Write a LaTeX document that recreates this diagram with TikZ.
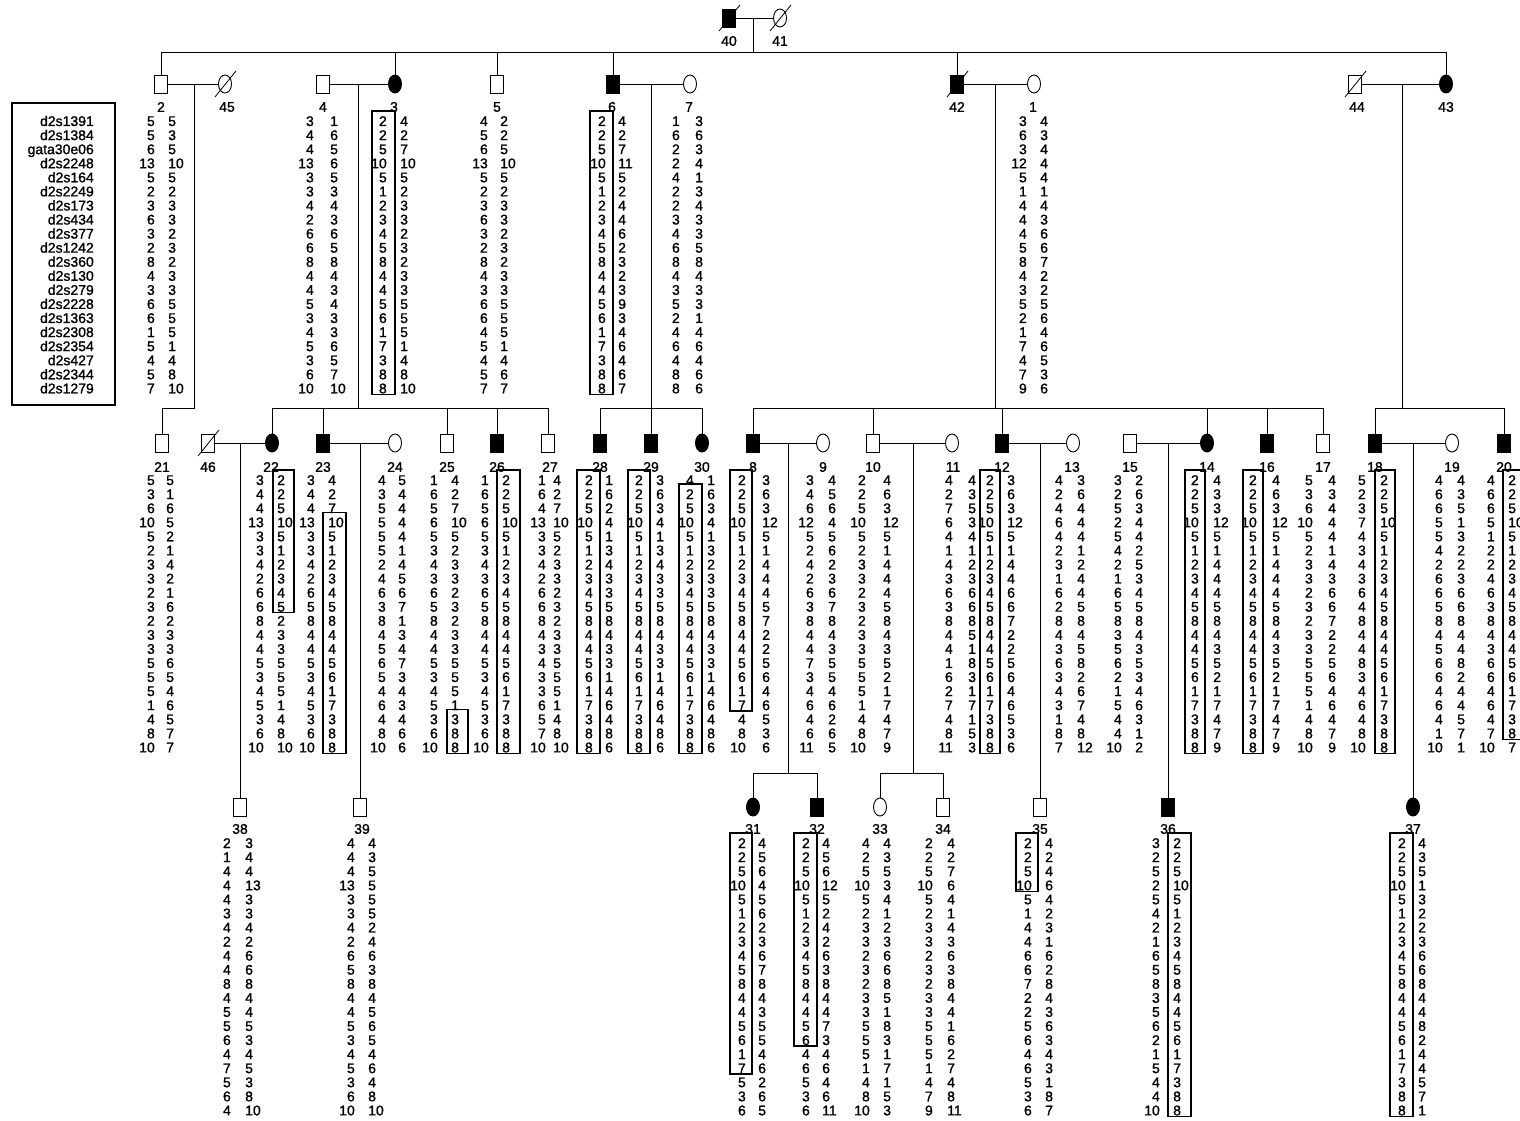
\documentclass[tikz,border=0pt]{standalone}
\usepackage{fontspec}
\setmainfont{Liberation Sans}
\newfontfamily\numff[FakeBold=1.2]{Liberation Sans}
\usetikzlibrary{shapes.geometric}
\newcommand\numfont{\numff\fontsize{14}{14}\selectfont}
\tikzset{
  sym/.style={draw, line width=0.9pt, minimum width=13pt, minimum height=18pt, inner sep=0pt, outer sep=0pt},
  sq/.style={sym, rectangle},
  ci/.style={sym, ellipse},
  aff/.style={fill=black},
  num/.style={font=\numfont, inner sep=0pt},
  lab/.style={font=\numfont, inner sep=0pt},
  ln/.style={line width=0.8pt},
  boxl/.style={line width=1.3pt},
}
\newcommand\hcol[5]{\foreach \v [count=\i] in {#5} {\node[num, anchor=base #2] (#1-\i) at (#3, {#4+(\i-1)*14.07+5}) {\v};}}
\newcommand\hap[6]{\hcol{#1a}{east}{#2}{#4}{#5}\hcol{#1b}{west}{#3}{#4}{#6}}
\newcommand\hbx[5]{\draw[boxl] (#1, {#3+(#4-1)*14.07-10}) rectangle (#2, {#3+(#5-1)*14.07+6});}
\newcommand\dead[1]{\draw[ln] ([shift={(-10,13)}]#1.center) -- ([shift={(11,-13)}]#1.center);}
\begin{document}
\begin{tikzpicture}[x=1pt,y=-1pt]
\useasboundingbox (0,0) rectangle (1520,1121);
% ---------- Generation I
\node[sq,aff] (p40) at (729,18) {};
\node[ci] (p41) at (780,18) {};
\dead{p40}\dead{p41}
\node[lab] (l40) at (729,41) {40};
\node[lab] (l41) at (780,41) {41};
\draw[ln] (p40) -- (p41);
\coordinate (m40) at (753,18);
\coordinate (s1) at (753,52);
\draw[ln] (m40) -- (s1);
% ---------- Generation II
\node[sq] (p2) at (161,84) {};
\node[ci] (p45) at (225,84) {};
\node[sq] (p4) at (323,84) {};
\node[ci,aff] (p3) at (395,84) {};
\node[sq] (p5) at (497,84) {};
\node[sq,aff] (p6) at (613,84) {};
\node[ci] (p7) at (690,84) {};
\node[sq,aff] (p42) at (957,84) {};
\node[ci] (p1) at (1034,84) {};
\node[sq] (p44) at (1355,84) {};
\node[ci,aff] (p43) at (1446,84) {};
\dead{p45}\dead{p42}\dead{p44}
\foreach \n/\x in {2/161,45/227,4/323,3/394,5/497,6/612,7/689,42/957,1/1033,44/1357,43/1446}
  {\node[lab] (l\n) at (\x,107) {\n};}
\draw[ln] (p2.north |- s1) -- (p43.north |- s1);
\foreach \c in {p2,p3,p5,p6,p42,p43} {\draw[ln] (\c.north) -- (\c.north |- s1);}
\draw[ln] (p2) -- (p45);
\draw[ln] (p4) -- (p3);
\draw[ln] (p6) -- (p7);
\draw[ln] (p42) -- (p1);
\draw[ln] (p44) -- (p43);
% legend
\draw[line width=1.8pt] (12,103) rectangle (115,405);
\hcol{lg}{east}{94}{121}{d2s1391,d2s1384,gata30e06,d2s2248,d2s164,d2s2249,d2s173,d2s434,d2s377,d2s1242,d2s360,d2s130,d2s279,d2s2228,d2s1363,d2s2308,d2s2354,d2s427,d2s2344,d2s1279}
% haplotypes gen II
\hap{h2}{155}{168}{121}{5,5,6,13,5,2,3,6,3,2,8,4,3,6,6,1,5,4,5,7}{5,3,5,10,5,2,3,3,2,3,2,3,3,5,5,5,1,4,8,10}
\hap{h4}{314}{330}{121}{3,4,4,13,3,3,4,2,6,6,8,4,4,5,3,4,5,3,6,10}{1,6,5,6,5,3,4,3,6,5,8,4,3,4,3,3,6,5,7,10}
\hap{h3}{387}{400}{121}{2,2,5,10,5,1,2,3,4,5,8,4,4,5,6,1,7,3,8,8}{4,2,7,10,5,2,3,3,2,3,2,3,3,5,5,5,1,4,8,10}
\hbx{372}{395}{121}{1}{20}
\hap{h5}{488}{500}{121}{4,5,6,13,5,2,3,6,3,2,8,4,3,6,6,4,5,4,5,7}{2,2,5,10,5,2,3,3,2,3,2,3,3,5,5,5,1,4,6,7}
\hap{h6}{606}{618}{121}{2,2,5,10,5,1,2,3,4,5,8,4,4,5,6,1,7,3,8,8}{4,2,7,11,5,2,4,4,6,2,3,2,3,9,3,4,6,4,6,7}
\hbx{590}{613}{121}{1}{20}
\hap{h7}{680}{695}{121}{1,6,2,2,4,2,2,3,4,6,8,4,3,5,2,4,6,4,8,8}{3,6,3,4,1,3,4,3,3,5,8,4,3,3,1,4,6,4,6,6}
\hap{h1}{1027}{1040}{121}{3,6,3,12,5,1,4,4,4,5,8,4,3,5,2,1,7,4,7,9}{4,3,4,4,4,1,4,3,6,6,7,2,2,5,6,4,6,5,3,6}
% ---------- Generation III
\node[sq] (p21) at (162,443) {};
\node[sq] (p46) at (208,443) {};
\node[ci,aff] (p22) at (272,443) {};
\node[sq,aff] (p23) at (323,443) {};
\node[ci] (p24) at (395,443) {};
\node[sq] (p25) at (447,443) {};
\node[sq,aff] (p26) at (497,443) {};
\node[sq] (p27) at (548,443) {};
\node[sq,aff] (p28) at (600,443) {};
\node[sq,aff] (p29) at (651,443) {};
\node[ci,aff] (p30) at (702,443) {};
\node[sq,aff] (p8) at (753,443) {};
\node[ci] (p9) at (823,443) {};
\node[sq] (p10) at (873,443) {};
\node[ci] (p11) at (952,443) {};
\node[sq,aff] (p12) at (1002,443) {};
\node[ci] (p13) at (1073,443) {};
\node[sq] (p15) at (1130,443) {};
\node[ci,aff] (p14) at (1207,443) {};
\node[sq,aff] (p16) at (1267,443) {};
\node[sq] (p17) at (1323,443) {};
\node[sq,aff] (p18) at (1375,443) {};
\node[ci] (p19) at (1452,443) {};
\node[sq,aff] (p20) at (1504,443) {};
\dead{p46}
\foreach \n/\x in {21/162,46/208,22/271,23/323,24/395,25/447,26/497,27/550,28/600,29/651,30/702,8/753,9/823,10/873,11/953,12/1002,13/1072,15/1130,14/1207,16/1267,17/1323,18/1375,19/1452,20/1504}
  {\node[lab] (l\n) at (\x,467) {\n};}
% sibship connectors gen III
\coordinate (m2) at (194,84); \coordinate (s21) at (194,408);
\draw[ln] (m2) -- (s21) -- (s21 -| p21.north) -- (p21.north);
\coordinate (m4) at (358,84); \coordinate (s22) at (358,408);
\draw[ln] (m4) -- (s22);
\draw[ln] (p22.north |- s22) -- (p27.north |- s22);
\foreach \c in {p22,p23,p25,p26,p27} {\draw[ln] (\c.north) -- (\c.north |- s22);}
\coordinate (m6) at (651,84); \coordinate (s28) at (651,408);
\draw[ln] (m6) -- (s28);
\draw[ln] (p28.north |- s28) -- (p30.north |- s28);
\foreach \c in {p28,p29,p30} {\draw[ln] (\c.north) -- (\c.north |- s28);}
\coordinate (m42) at (995,84); \coordinate (s8) at (995,408);
\draw[ln] (m42) -- (s8);
\draw[ln] (p8.north |- s8) -- (p17.north |- s8);
\foreach \c in {p8,p10,p12,p14,p16,p17} {\draw[ln] (\c.north) -- (\c.north |- s8);}
\coordinate (m44) at (1402,84); \coordinate (s18) at (1402,408);
\draw[ln] (m44) -- (s18);
\draw[ln] (p18.north |- s18) -- (p20.north |- s18);
\foreach \c in {p18,p20} {\draw[ln] (\c.north) -- (\c.north |- s18);}
% marriages gen III
\draw[ln] (p46) -- (p22);
\draw[ln] (p23) -- (p24);
\draw[ln] (p8) -- (p9);
\draw[ln] (p10) -- (p11);
\draw[ln] (p12) -- (p13);
\draw[ln] (p15) -- (p14);
\draw[ln] (p18) -- (p19);
% haplotypes gen III
\hap{h21}{155}{166}{480}{5,3,6,10,5,2,3,3,2,3,2,3,3,5,5,5,1,4,8,10}{5,1,6,5,2,1,4,2,1,6,2,3,3,6,5,4,6,5,7,7}
\hap{h22}{264}{277}{480}{3,4,4,13,3,3,4,2,6,6,8,4,4,5,3,4,5,3,6,10}{2,2,5,10,5,1,2,3,4,5,2,3,3,5,5,5,1,4,8,10}
\hbx{273}{294}{480}{1}{10}
\hap{h23}{315}{328}{480}{3,4,4,13,3,3,4,2,6,5,8,4,4,5,3,4,5,3,6,10}{4,2,7,10,5,1,2,3,4,5,8,4,4,5,6,1,7,3,8,8}
\hbx{323}{346}{480}{4}{20}
\hap{h24}{386}{398}{480}{4,3,5,5,5,5,2,4,6,3,8,4,5,6,5,4,6,4,8,10}{5,4,4,4,4,1,4,5,6,7,1,3,4,7,3,4,3,4,6,6}
\hap{h25}{438}{451}{480}{1,6,5,6,5,3,4,3,6,5,8,4,4,5,3,4,5,3,6,10}{4,2,7,10,5,2,3,3,2,3,2,3,3,5,5,5,1,3,8,8}
\hbx{447}{468}{480}{18}{20}
\hap{h26}{489}{502}{480}{1,6,5,6,5,3,4,3,6,5,8,4,4,5,3,4,5,3,6,10}{2,2,5,10,5,1,2,3,4,5,8,4,4,5,6,1,7,3,8,8}
\hbx{497}{520}{480}{1}{20}
\hap{h27}{546}{553}{480}{1,6,4,13,3,3,4,2,6,6,8,4,3,4,3,3,6,5,7,10}{4,2,7,10,5,2,3,3,2,3,2,3,3,5,5,5,1,4,8,10}
\hap{h28}{593}{605}{480}{2,2,5,10,5,1,2,3,4,5,8,4,4,5,6,1,7,3,8,8}{1,6,2,4,1,3,4,3,3,5,8,4,3,3,1,4,6,4,8,6}
\hbx{577}{600}{480}{1}{20}
\hap{h29}{643}{656}{480}{2,2,5,10,5,1,2,3,4,5,8,4,4,5,6,1,7,3,8,8}{3,6,3,4,1,3,4,3,3,5,8,4,3,3,1,4,6,4,8,6}
\hbx{628}{650}{480}{1}{20}
\hap{h30}{694}{707}{480}{4,2,5,10,5,1,2,3,4,5,8,4,4,5,6,1,7,3,8,8}{1,6,3,4,1,3,2,3,3,5,8,4,3,3,1,4,6,4,8,6}
\hbx{679}{702}{480}{2}{20}
\hap{h8}{746}{762}{480}{2,2,5,10,5,1,2,3,4,5,8,4,4,5,6,1,7,4,8,10}{3,6,3,12,5,1,4,4,4,5,7,2,2,5,6,4,6,5,3,6}
\hbx{730}{752}{480}{1}{17}
\hap{h9}{814}{828}{480}{3,4,6,12,5,2,4,2,6,3,8,4,4,7,3,4,6,4,6,11}{4,5,6,4,5,6,2,3,6,7,8,4,3,5,5,4,6,2,6,5}
\hap{h10}{866}{883}{480}{2,2,5,10,5,2,3,3,2,3,2,3,3,5,5,5,1,4,8,10}{4,6,3,12,5,1,4,4,4,5,8,4,3,5,2,1,7,4,7,9}
\hap{h11}{953}{968}{480}{4,2,7,6,4,1,4,3,6,3,8,4,4,1,6,2,7,4,8,11}{4,3,5,3,4,1,2,3,6,6,8,5,1,8,3,1,7,1,5,3}
\hap{h12}{994}{1007}{480}{2,2,5,10,5,1,2,3,4,5,8,4,4,5,6,1,7,3,8,8}{3,6,3,12,5,1,4,4,6,6,7,2,2,5,6,4,6,5,3,6}
\hbx{980}{1000}{480}{1}{20}
\hap{h13}{1063}{1077}{480}{4,2,4,6,4,2,3,1,6,2,8,4,3,6,3,4,3,1,8,7}{3,6,4,4,4,1,2,4,4,5,8,4,5,8,2,6,7,4,8,12}
\hap{h15}{1122}{1135}{480}{3,2,5,2,5,4,2,1,6,5,8,3,5,6,2,1,5,4,4,10}{2,6,3,4,4,2,5,3,4,5,8,4,3,5,3,4,6,3,1,2}
\hap{h14}{1199}{1213}{480}{2,2,5,10,5,1,2,3,4,5,8,4,4,5,6,1,7,3,8,8}{4,3,3,12,5,1,4,4,4,5,8,4,3,5,2,1,7,4,7,9}
\hbx{1185}{1205}{480}{1}{20}
\hap{h16}{1257}{1272}{480}{2,2,5,10,5,1,2,3,4,5,8,4,4,5,6,1,7,3,8,8}{4,6,3,12,5,1,4,4,4,5,8,4,3,5,2,1,7,4,7,9}
\hbx{1243}{1263}{480}{1}{20}
\hap{h17}{1313}{1328}{480}{5,3,6,10,5,2,3,3,2,3,2,3,3,5,5,5,1,4,8,10}{4,3,4,4,4,1,4,3,6,6,7,2,2,5,6,4,6,4,7,9}
\hap{h18}{1366}{1380}{480}{5,2,3,7,4,3,4,3,6,4,8,4,4,8,3,4,6,4,8,10}{2,2,5,10,5,1,2,3,4,5,8,4,4,5,6,1,7,3,8,8}
\hbx{1375}{1395}{480}{1}{20}
\hap{h19}{1443}{1457}{480}{4,6,6,5,5,4,2,6,6,5,8,4,5,6,6,4,6,4,1,10}{4,3,5,1,3,2,2,3,6,6,8,4,4,8,2,4,4,5,7,1}
\hap{h20}{1495}{1508}{480}{4,6,6,5,1,2,2,4,6,3,8,4,3,6,6,4,6,4,7,10}{2,2,5,10,5,1,2,3,4,5,8,4,4,5,6,1,7,3,8,7}
\hbx{1503}{1526}{480}{1}{19}
% ---------- Generation IV
\node[sq] (p38) at (240,807) {};
\node[sq] (p39) at (360,807) {};
\node[ci,aff] (p31) at (753,807) {};
\node[sq,aff] (p32) at (817,807) {};
\node[ci] (p33) at (880,807) {};
\node[sq] (p34) at (943,807) {};
\node[sq] (p35) at (1040,807) {};
\node[sq,aff] (p36) at (1168,807) {};
\node[ci,aff] (p37) at (1413,807) {};
\foreach \n/\x in {38/240,39/362,31/753,32/817,33/880,34/943,35/1040,36/1168,37/1413}
  {\node[lab] (l\n) at (\x,829) {\n};}
\coordinate (m46) at (240,443); \draw[ln] (m46) -- (p38.north);
\coordinate (m23) at (360,443); \draw[ln] (m23) -- (p39.north);
\coordinate (m8) at (788,443); \coordinate (s31) at (788,773);
\draw[ln] (m8) -- (s31);
\draw[ln] (p31.north |- s31) -- (p32.north |- s31);
\foreach \c in {p31,p32} {\draw[ln] (\c.north) -- (\c.north |- s31);}
\coordinate (m10) at (913,443); \coordinate (s33) at (913,773);
\draw[ln] (m10) -- (s33);
\draw[ln] (p33.north |- s33) -- (p34.north |- s33);
\foreach \c in {p33,p34} {\draw[ln] (\c.north) -- (\c.north |- s33);}
\coordinate (m12) at (1040,443); \draw[ln] (m12) -- (p35.north);
\coordinate (m15) at (1168,443); \draw[ln] (m15) -- (p36.north);
\coordinate (m18) at (1413,443); \draw[ln] (m18) -- (p37.north);
% haplotypes gen IV
\hap{h38}{231}{245}{843}{2,1,4,4,4,3,4,2,4,4,8,4,5,5,6,4,7,5,6,4}{3,4,4,13,3,3,4,2,6,6,8,4,4,5,3,4,5,3,8,10}
\hap{h39}{355}{368}{843}{4,4,4,13,3,3,4,2,6,5,8,4,4,5,3,4,5,3,6,10}{4,3,5,5,5,5,2,4,6,3,8,4,5,6,5,4,6,4,8,10}
\hap{h31}{746}{758}{843}{2,2,5,10,5,1,2,3,4,5,8,4,4,5,6,1,7,5,3,6}{4,5,6,4,5,6,2,3,6,7,8,4,3,5,5,4,6,2,6,5}
\hbx{730}{752}{843}{1}{17}
\hap{h32}{810}{822}{843}{2,2,5,10,5,1,2,3,4,5,8,4,4,5,6,4,6,5,3,6}{4,5,6,12,5,2,4,2,6,3,8,4,4,7,3,4,6,4,6,11}
\hbx{794}{817}{843}{1}{15}
\hap{h33}{870}{883}{843}{4,2,5,10,5,2,3,3,2,3,2,3,3,5,5,5,1,4,8,10}{4,3,5,3,4,1,2,3,6,6,8,5,1,8,3,1,7,1,5,3}
\hap{h34}{933}{947}{843}{2,2,5,10,5,2,3,3,2,3,2,3,3,5,5,5,1,4,7,9}{4,2,7,6,4,1,4,3,6,3,8,4,4,1,6,2,7,4,8,11}
\hap{h35}{1032}{1045}{843}{2,2,5,10,5,1,4,4,6,6,7,2,2,5,6,4,6,5,3,6}{4,2,4,6,4,2,3,1,6,2,8,4,3,6,3,4,3,1,8,7}
\hbx{1016}{1038}{843}{1}{4}
\hap{h36}{1160}{1173}{843}{3,2,5,2,5,4,2,1,6,5,8,3,5,6,2,1,5,4,4,10}{2,2,5,10,5,1,2,3,4,5,8,4,4,5,6,1,7,3,8,8}
\hbx{1168}{1191}{843}{1}{20}
\hap{h37}{1406}{1418}{843}{2,2,5,10,5,1,2,3,4,5,8,4,4,5,6,1,7,3,8,8}{4,3,5,1,3,2,2,3,6,6,8,4,4,8,2,4,4,5,7,1}
\hbx{1390}{1413}{843}{1}{20}
\end{tikzpicture}
\end{document}
